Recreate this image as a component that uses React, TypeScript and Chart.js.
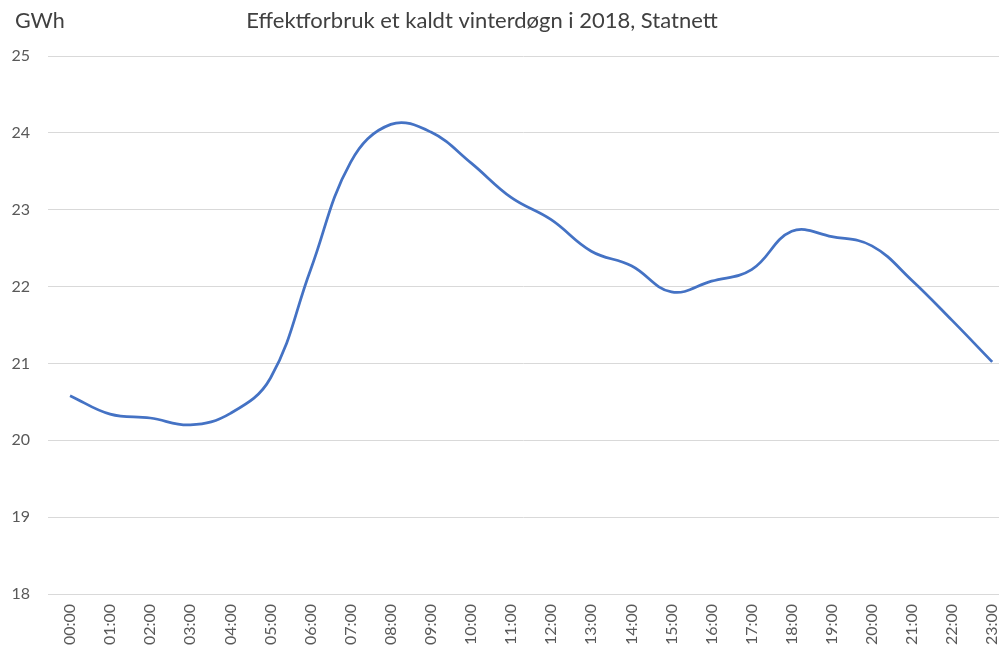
import React, { useEffect, useRef } from "react";
import { Chart, registerables } from "chart.js";

Chart.register(...registerables);

const TITLE = "Effektforbruk et kaldt vinterdøgn i 2018, Statnett";
const UNIT = "GWh";
const hours = [
  "00:00", "01:00", "02:00", "03:00", "04:00", "05:00", "06:00", "07:00",
  "08:00", "09:00", "10:00", "11:00", "12:00", "13:00", "14:00", "15:00",
  "16:00", "17:00", "18:00", "19:00", "20:00", "21:00", "22:00", "23:00",
];
const consumption = [
  20.58, 20.34, 20.29, 20.2, 20.35, 20.81, 22.22, 23.62,
  24.11, 24.01, 23.61, 23.16, 22.87, 22.46, 22.27, 21.93,
  22.07, 22.22, 22.72, 22.65, 22.53, 22.08, 21.56, 21.02,
];
const yMin = 18;
const yMax = 25;

const FONT = "Lato, 'Open Sans', sans-serif";

const textPlugin = {
  id: "fixedTexts",
  afterDraw(chart: any) {
    const ctx = chart.ctx;
    ctx.save();
    ctx.fillStyle = "#404040";
    ctx.textBaseline = "middle";
    ctx.font = `22px ${FONT}`;
    ctx.textAlign = "center";
    ctx.fillText(TITLE, 482, 21);
    ctx.font = `21.5px ${FONT}`;
    ctx.textAlign = "left";
    ctx.fillText(UNIT, 15, 21);
    ctx.restore();
  },
};

export default function App() {
  const ref = useRef<HTMLCanvasElement | null>(null);
  useEffect(() => {
    if (!ref.current) return;
    const chart = new Chart(ref.current, {
      type: "line",
      data: {
        datasets: [
          {
            data: consumption.map((v, i) => ({ x: i, y: v })),
            borderColor: "#4472C4",
            borderWidth: 2.75,
            pointRadius: 0,
            tension: 0.4,
            fill: false,
          },
        ],
      },
      options: {
        animation: false,
        responsive: true,
        maintainAspectRatio: false,
        layout: { padding: { top: 56, left: 0, right: 0, bottom: 0 } },
        plugins: {
          legend: { display: false },
          title: { display: false },
          tooltip: { enabled: false },
        },
        scales: {
          x: {
            type: "linear",
            min: -0.55,
            max: 23.17,
            afterBuildTicks: (scale: any) => {
              scale.ticks = hours.map((_, i) => ({ value: i }));
            },
            afterFit: (scale: any) => {
              scale.height = 61;
              scale.paddingLeft = 0;
              scale.paddingRight = 0;
            },
            grid: { display: false, drawTicks: false },
            border: { display: true, color: "#d9d9d9", width: 1 },
            ticks: {
              autoSkip: false,
              maxRotation: 90,
              minRotation: 90,
              padding: 10,
              color: "#595959",
              font: { family: FONT, size: 16 },
              callback: (v: any) => hours[Math.round(Number(v))] ?? "",
            },
          },
          y: {
            min: yMin,
            max: yMax,
            afterFit: (scale: any) => {
              scale.width = 48;
            },
            grid: { color: "#d9d9d9", drawTicks: false, lineWidth: 1 },
            border: { display: false },
            ticks: {
              stepSize: 1,
              padding: 18,
              color: "#595959",
              font: { family: FONT, size: 16 },
            },
          },
        },
      },
      plugins: [textPlugin],
    });
    return () => chart.destroy();
  }, []);

  return (
    <div
      style={{
        position: "fixed",
        left: 0,
        top: 0,
        width: 999,
        height: 655,
        background: "#ffffff",
      }}
    >
      <canvas ref={ref} />
    </div>
  );
}
